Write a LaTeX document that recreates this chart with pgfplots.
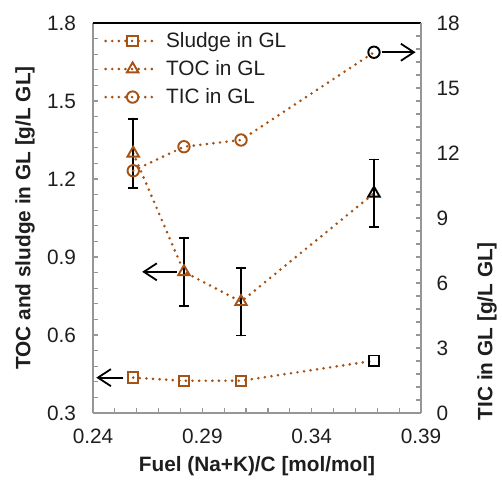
\documentclass[border=0pt]{standalone}
\usepackage{fontspec}
\setmainfont{Liberation Sans}
\usepackage{pgfplots}
\pgfplotsset{compat=1.18}
\usetikzlibrary{arrows.meta}

\definecolor{rust}{RGB}{165,82,20}
\definecolor{axgray}{RGB}{150,150,150}
\definecolor{txt}{RGB}{30,30,30}

\newcommand{\fs}{\fontsize{20.8bp}{24bp}\selectfont}

\pgfplotsset{
  /pgf/number format/assume math mode=true,
  dotline/.style={rust, line width=2.9bp, dash pattern=on 0bp off 6.6bp, line cap=round},
  mk/.style={mark options={solid, line width=1.9bp}},
  common/.style={
    scale only axis, width=328bp, height=390bp,
    xmin=0.24, xmax=0.39,
    tick align=inside, major tick length=5bp, minor tick length=5bp,
    tick style={axgray, line width=1.2bp},
    tick label style={font=\fs, color=txt},
    label style={font=\bfseries\fs, color=txt},
    scaled ticks=false, clip=false,
  },
}

\begin{document}
\begin{tikzpicture}
% left axis: sludge and TOC
\begin{axis}[common,
  ymin=0.3, ymax=1.8,
  axis x line*=bottom, axis y line*=left,
  axis line style={axgray, line width=1.8bp},
  xtick={0.24,0.29,0.34,0.39}, minor x tick num=4,
  ytick={0.3,0.6,0.9,1.2,1.5,1.8}, minor y tick num=4,
  xticklabel style={/pgf/number format/fixed, /pgf/number format/fixed zerofill,
    /pgf/number format/precision=2, yshift=-12bp},
  yticklabel style={/pgf/number format/fixed, /pgf/number format/fixed zerofill,
    /pgf/number format/precision=1, xshift=-13.5bp},
  xlabel={Fuel (Na+K)/C [mol/mol]},
  ylabel={TOC and sludge in GL [g/L GL]},
  xlabel style={at={(axis description cs:0.5,0)}, anchor=center, yshift=-53bp},
  ylabel style={at={(axis description cs:-0.207,0.5)}, anchor=center},
]
\coordinate (sw) at (rel axis cs:0,0);
\coordinate (ne) at (rel axis cs:1,1);

% sludge
\addplot[dotline, mk, mark=square, mark size=5.2bp, mark indices={1,2,3}]
  coordinates {(0.2584,0.436) (0.2816,0.424) (0.3077,0.424) (0.3685,0.501)};
\addplot[only marks, black, mark=square, mark size=5.2bp, mark options={solid, line width=1.9bp}]
  coordinates {(0.3685,0.501)};

% TOC
\addplot[dotline, mk, mark=triangle, mark size=6.6bp, mark indices={1,2,3},
  error bars/.cd, y dir=both, y explicit,
  error bar style={black, line width=1.9bp, solid},
  error mark options={black, rotate=90, mark size=5.2bp, line width=1.9bp, solid}]
  coordinates {(0.2584,1.299) +- (0,0.133)
               (0.2816,0.843) +- (0,0.13)
               (0.3077,0.728) +- (0,0.13)
               (0.3685,1.145) +- (0,0.13)};
\addplot[only marks, black, mark=triangle, mark size=6.6bp, mark options={solid, line width=1.9bp}]
  coordinates {(0.3685,1.145)};

\draw[black, line width=1.8bp, -{Straight Barb[length=13bp, width=17bp, line width=1.8bp]}]
  (axis cs:0.2783,0.843) -- (axis cs:0.2625,0.843);
\draw[black, line width=1.8bp, -{Straight Barb[length=13bp, width=17bp, line width=1.8bp]}]
  (axis cs:0.2539,0.436) -- (axis cs:0.2415,0.436);
\end{axis}

% right axis: TIC
\begin{axis}[common,
  ymin=0, ymax=18,
  axis y line*=right, axis x line*=top,
  x axis line style={black, line width=2bp},
  y axis line style={axgray, line width=1.8bp},
  xtick=\empty,
  ytick={0,3,6,9,12,15,18}, minor y tick num=4,
  yticklabel style={xshift=12bp},
  ylabel={TIC in GL [g/L GL]},
  ylabel style={at={(axis description cs:1.201,0.21)}, anchor=center},
  legend image code/.code={\draw[mark repeat=2, mark phase=2]
    plot coordinates {(0bp,0bp) (27bp,0bp) (50bp,0bp)};},
  legend style={at={(axis description cs:0,1)}, anchor=north west,
    xshift=8bp, yshift=-5.5bp, draw=none, fill=none, font=\fs,
    text=txt, row sep=7.5bp,
    /tikz/every odd column/.append style={column sep=7bp}},
  legend cell align=left,
]
\addlegendimage{dotline, mk, mark=square, mark size=5.2bp}
\addlegendentry{Sludge in GL}
\addlegendimage{dotline, mk, mark=triangle, mark size=6.6bp}
\addlegendentry{TOC in GL}
\addlegendimage{dotline, mk, mark=o, mark size=5.7bp}
\addlegendentry{TIC in GL}

\addplot[dotline, mk, mark=o, mark size=5.7bp, mark indices={1,2,3}, forget plot]
  coordinates {(0.2584,11.18) (0.2816,12.29) (0.3077,12.60) (0.3685,16.65)};
\addplot[only marks, black, mark=o, mark size=5.7bp, mark options={solid, line width=1.9bp}, forget plot]
  coordinates {(0.3685,16.65)};

\draw[black, line width=1.8bp, -{Straight Barb[length=13bp, width=17bp, line width=1.8bp]}]
  (axis cs:0.3720,16.65) -- (axis cs:0.3875,16.65);
\end{axis}

\pgfresetboundingbox
\path[use as bounding box] ([shift={(-93bp,-67bp)}]sw) rectangle ([shift={(81bp,23bp)}]ne);
\end{tikzpicture}
\end{document}
